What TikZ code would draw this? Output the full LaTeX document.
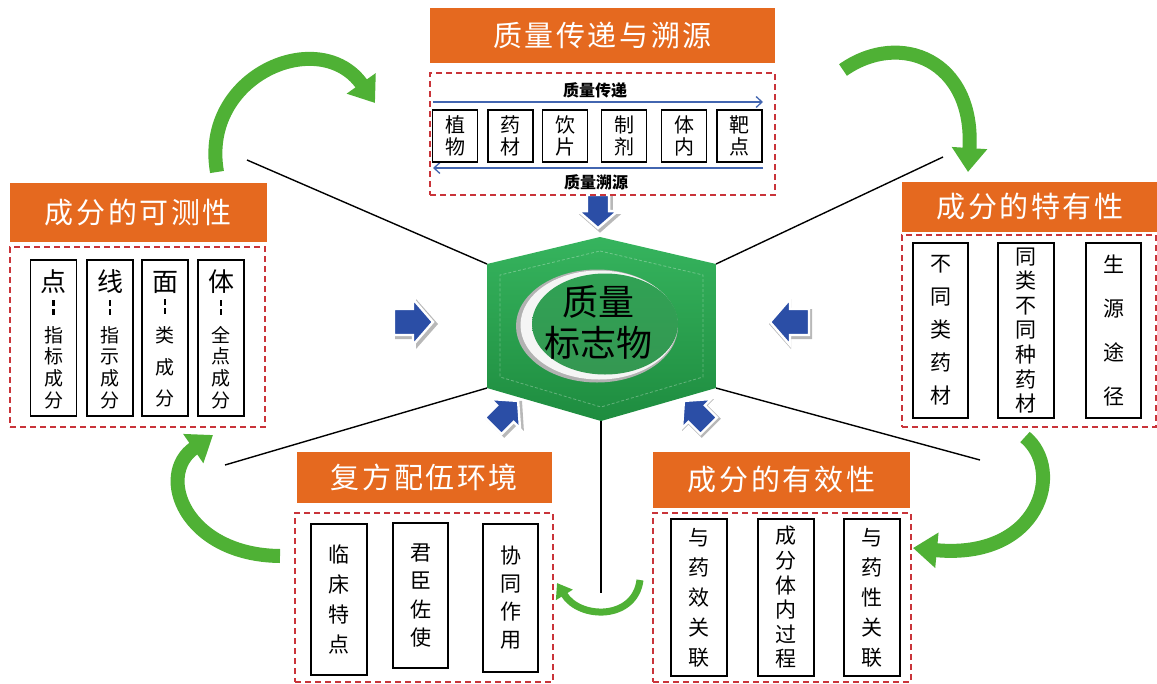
\documentclass[tikz,border=0pt]{standalone}
\usepackage{fontspec}
\setmainfont{Noto Sans CJK SC}
\newfontfamily\titlefont{Noto Sans CJK SC}[LetterSpace=9]
\usetikzlibrary{arrows.meta,shapes.geometric,calc}
\definecolor{orangec}{HTML}{E5691F}
\definecolor{redc}{HTML}{C9343A}
\definecolor{bluec}{HTML}{2B4EA6}
\definecolor{blinec}{HTML}{4265B0}
\definecolor{greenc}{HTML}{4FB135}
\definecolor{hexlight}{HTML}{36B45E}
\definecolor{hexdark}{HTML}{1E8C3F}
\begin{document}
\begin{tikzpicture}[x=1pt,y=-1pt,
  titlebox/.style={fill=orangec,text=white,inner sep=0,font=\titlefont\fontsize{29}{34}\selectfont},
  dashbox/.style={draw=redc,line width=1.5pt,dash pattern=on 6pt off 4pt,inner sep=0},
  cell/.style={draw=black,line width=1.8pt,fill=white,inner sep=0,align=center},
  vtext/.style={align=center,inner sep=0},
  spoke/.style={draw=black,line width=1.4pt},
  flowline/.style={draw=blinec,line width=1.3pt},
  sepbar/.style={draw=black,line width=2.6pt,dash pattern=on 6pt off 3pt},
  gbig/.style={draw=greenc,line width=14pt,-{Triangle[width=34pt,length=24pt]}},
  gsmall/.style={draw=greenc,line width=7pt,-{Triangle[width=19pt,length=14pt]}},
  arrshadow/.pic={
    \fill[black,opacity=.28] (-21,-15) -- (0,-15) -- (0,-25) -- (22,0) -- (0,25) -- (0,15) -- (-21,15) -- cycle;
  },
  bluearr/.pic={
    \draw[fill=bluec,draw=white,line width=2.4pt,line join=miter] (-20,-13) -- (-1,-13) -- (-1,-23) -- (19,0) -- (-1,23) -- (-1,13) -- (-20,13) -- cycle;
  }
]
\useasboundingbox (0,0) rectangle (1157,683);

% ---------- hexagon vertices ----------
\coordinate (hT) at (600,237);
\coordinate (hUR) at (716,264);
\coordinate (hLR) at (716,388);
\coordinate (hB) at (601,421);
\coordinate (hLL) at (487,388);
\coordinate (hUL) at (487,264);

% ---------- spokes ----------
\coordinate (sUL) at (247,160);
\coordinate (sUR) at (943,157);
\coordinate (sLL) at (225,465);
\coordinate (sLR) at (980,460);
\coordinate (sB) at (601,593);
\draw[spoke] (hUL) -- (sUL);
\draw[spoke] (hUR) -- (sUR);
\draw[spoke] (hLL) -- (sLL);
\draw[spoke] (hLR) -- (sLR);
\draw[spoke] (hB) -- (sB);

% ---------- hexagon ----------
\shade[top color=hexlight,bottom color=hexdark] (hT) -- (hUR) -- (hLR) -- (hB) -- (hLL) -- (hUL) -- cycle;
\draw[white,opacity=.3,line width=0.8pt,densely dashed] (600,251) -- (703,275) -- (703,377) -- (601,407) -- (500,377) -- (500,275) -- cycle;
\fill[gray!60] (597,326) ellipse [x radius=81,y radius=56.5];
\fill[white!92!gray] (599,325) ellipse [x radius=78.5,y radius=54.5];
\shade[top color=hexlight!90!black,bottom color=hexdark!90!white] (605,324) ellipse [x radius=73,y radius=50.5];
\node[vtext,font=\fontsize{36}{41}\selectfont] (core) at (598,322) {质量\\标志物};

% ---------- blue arrows ----------
\pic[rotate=-90,scale=0.85] (bTs) at (600,214) {arrshadow};
\pic[rotate=-90,scale=0.85] (bT) at (598,212) {bluearr};
\pic (bLs) at (416,324) {arrshadow};
\pic (bL) at (414,322) {bluearr};
\pic[rotate=180] (bRs) at (791,324) {arrshadow};
\pic[rotate=180] (bR) at (789,322) {bluearr};
\pic[rotate=45,scale=0.9] (bLLs) at (508,415) {arrshadow};
\pic[rotate=45,scale=0.9] (bLL) at (506,413) {bluearr};
\pic[rotate=135,scale=0.9] (bLRs) at (698,415) {arrshadow};
\pic[rotate=135,scale=0.9] (bLR) at (696,413) {bluearr};

% ---------- top group ----------
\node[titlebox,minimum width=345pt,minimum height=55pt] (tTitle) at (602.5,35.5) {质量传递与溯源};
\node[dashbox,minimum width=345pt,minimum height=122pt] (tDash) at (602.5,134) {};
\node[vtext,font=\fontsize{16}{18}\selectfont\bfseries] (tUp) at (595,90) {质量传递};
\node[vtext,font=\fontsize{16}{18}\selectfont\bfseries] (tDown) at (596,182) {质量溯源};
\coordinate (fa1) at (433,102); \coordinate (fa2) at (763,102);
\coordinate (fb1) at (763,168); \coordinate (fb2) at (433,168);
\draw[flowline,-{Straight Barb[length=6pt,width=11pt]}] (fa1) -- (fa2);
\draw[flowline,-{Straight Barb[length=6pt,width=11pt]}] (fb1) -- (fb2);
\begin{scope}[every node/.style={cell,minimum width=45pt,minimum height=52pt,font=\fontsize{20}{22}\selectfont}]
\node (t1) at (455,136) {植\\物};
\node (t2) at (510.5,136) {药\\材};
\node (t3) at (565,136) {饮\\片};
\node (t4) at (624,136) {制\\剂};
\node (t5) at (684,136) {体\\内};
\node (t6) at (739.5,136) {靶\\点};
\end{scope}

% ---------- left group ----------
\node[titlebox,minimum width=257pt,minimum height=59pt] (lTitle) at (138.5,212.5) {成分的可测性};
\node[dashbox,minimum width=255pt,minimum height=180pt] (lDash) at (137.5,337) {};
\begin{scope}[every node/.style={cell,minimum width=46pt,minimum height=156pt}]
\node (l1) at (53.5,338) {};
\node (l2) at (110,338) {};
\node (l3) at (165,338) {};
\node (l4) at (221,338) {};
\end{scope}
\begin{scope}[every node/.style={vtext,font=\fontsize{26}{28}\selectfont}]
\node (l1a) at (53.5,282) {点};
\node (l2a) at (110,282) {线};
\node (l3a) at (165,282) {面};
\node (l4a) at (221,282) {体};
\end{scope}
\foreach \n in {l1a,l2a,l3a,l4a}{
  \draw[sepbar] ($(\n.south)+(0,6)$) -- ($(\n.south)+(0,21)$);
}
\node[vtext,font=\fontsize{19}{21.7}\selectfont] (l1c) at (53.5,367.5) {指\\标\\成\\分};
\node[vtext,font=\fontsize{19}{21.7}\selectfont] (l2c) at (110,367.5) {指\\示\\成\\分};
\node[vtext,font=\fontsize{19}{31.5}\selectfont] (l3c) at (165,367) {类\\成\\分};
\node[vtext,font=\fontsize{19}{21.7}\selectfont] (l4c) at (221,367.5) {全\\点\\成\\分};

% ---------- right group ----------
\node[titlebox,minimum width=256pt,minimum height=50pt] (rTitle) at (1030,207) {成分的特有性};
\node[dashbox,minimum width=254pt,minimum height=192pt] (rDash) at (1029,331) {};
\node[cell,minimum width=55pt,minimum height=175pt,font=\fontsize{21}{33}\selectfont] (r1) at (940.5,330.5) {不\\同\\类\\药\\材};
\node[cell,minimum width=56pt,minimum height=175pt,font=\fontsize{21}{24.6}\selectfont] (r2) at (1026,330.5) {同\\类\\不\\同\\种\\药\\材};
\node[cell,minimum width=55pt,minimum height=175pt,font=\fontsize{21}{44}\selectfont] (r3) at (1113.5,330.5) {生\\源\\途\\径};

% ---------- bottom-left group ----------
\node[titlebox,minimum width=255pt,minimum height=51pt] (blTitle) at (424.5,477.5) {复方配伍环境};
\node[dashbox,minimum width=258pt,minimum height=169pt] (blDash) at (424,597.5) {};
\node[cell,minimum width=56pt,minimum height=151pt,font=\fontsize{21}{30}\selectfont] (bl1) at (339,599.5) {临\\床\\特\\点};
\node[cell,minimum width=55pt,minimum height=145pt,font=\fontsize{21}{28.5}\selectfont] (bl2) at (420.5,595.5) {君\\臣\\佐\\使};
\node[cell,minimum width=55pt,minimum height=148pt,font=\fontsize{21}{28}\selectfont] (bl3) at (510.5,598) {协\\同\\作\\用};

% ---------- bottom-right group ----------
\node[titlebox,minimum width=257pt,minimum height=56pt] (brTitle) at (781.5,480) {成分的有效性};
\node[dashbox,minimum width=258pt,minimum height=169pt] (brDash) at (782,597.5) {};
\node[cell,minimum width=56pt,minimum height=157pt,font=\fontsize{21}{30}\selectfont] (br1) at (699,597.5) {与\\药\\效\\关\\联};
\node[cell,minimum width=56pt,minimum height=157pt,font=\fontsize{21}{24.6}\selectfont] (br2) at (786,597.5) {成\\分\\体\\内\\过\\程};
\node[cell,minimum width=56pt,minimum height=157pt,font=\fontsize{21}{30}\selectfont] (br3) at (872,597.5) {与\\药\\性\\关\\联};

% ---------- green cycle arrows ----------
\coordinate (gA1) at (217,172); \coordinate (gA2) at (375,103);
\coordinate (gB1) at (843,70);  \coordinate (gB2) at (968,172);
\coordinate (gC1) at (1025,437); \coordinate (gC2) at (913,548);
\coordinate (gD1) at (280,556); \coordinate (gD2) at (213,435);
\coordinate (gE1) at (640,580); \coordinate (gE2) at (557,583);
\draw[gbig] (gA1) .. controls (200,75) and (320,25) .. (gA2);
\draw[gbig] (gB1) .. controls (900,30) and (975,60) .. (gB2);
\draw[gbig] (gC1) .. controls (1065,470) and (1040,560) .. (gC2);
\draw[gbig] (gD1) .. controls (185,555) and (155,475) .. (gD2);
\draw[gsmall] (gE1) .. controls (635,620) and (580,620) .. (gE2);
\end{tikzpicture}
\end{document}
